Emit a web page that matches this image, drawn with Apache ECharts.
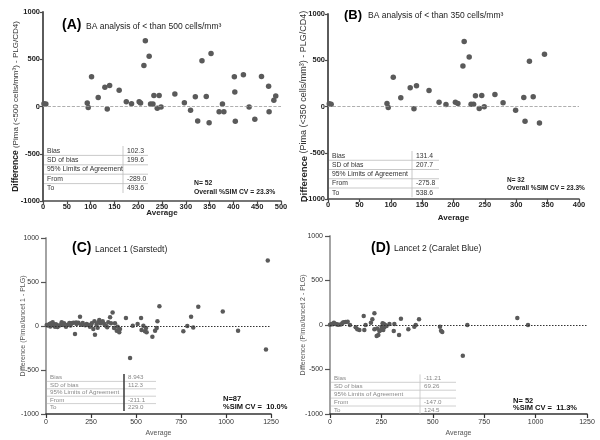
<!DOCTYPE html>
<html><head><meta charset="utf-8">
<script src="https://cdn.jsdelivr.net/npm/echarts@6/dist/echarts.min.js"></script>
<style>html,body{margin:0;padding:0;background:#fff}#c{width:600px;height:440px}</style>
</head><body><div id="c"></div>
<script>
// ---------- DATA ----------
const aAvg = [2,6,93,95,102,116,130,135,140,160,175,186,202,205,212,215,223,226,231,233,240,244,248,277,297,310,320,325,334,343,349,353,370,377,380,402,403,404,421,433,445,459,474,475,485,489];
const aDiff = [29,26,37,-11,314,95,204,-26,223,172,51,29,51,37,434,697,533,26,26,117,-18,117,-4,131,40,-40,102,-153,485,106,-172,562,-55,26,-55,314,153,-157,336,-4,-135,318,215,-55,66,110];

const bAvg = [2,5,94,96,104,116,131,137,141,161,177,188,203,207,215,217,225,228,232,235,241,245,249,266,279,299,312,314,321,327,337,345];
const bDiff = [29,25,33,-11,315,94,203,-25,225,174,47,22,47,33,438,703,536,25,25,116,-22,120,-4,130,40,-40,98,-159,489,105,-178,565];

const cAvg = [4,19,28,37,45,50,59,69,78,87,100,111,120,130,143,152,161,170,180,189,195,204,226,235,244,254,263,269,272,281,291,296,304,315,324,333,346,356,361,370,378,383,393,398,407,411,444,482,509,528,531,541,550,556,559,591,606,615,619,630,785,818,763,806,846,982,1067,1222,467,1232,10,24,41,55,64,95,136,167,218,250,287,340];
const cDiff = [11,23,30,42,4,-8,11,4,8,42,30,-8,15,34,30,38,-91,23,38,106,15,34,23,11,-8,30,-34,53,-99,15,42,68,30,53,23,4,42,99,30,152,-23,30,-53,-8,-72,-34,91,4,23,91,-45,4,-61,-23,-72,-121,-53,-23,53,224,0,-16,-61,106,219,166,-53,-266,-364,745,5,-6,18,20,-10,12,6,40,8,12,-20,-15];

const dAvg = [0,8,19,29,41,52,65,76,86,97,125,133,143,164,167,173,199,206,216,216,227,235,240,246,251,256,259,264,268,289,310,313,336,345,381,410,417,433,535,540,546,646,668,911,963,14,35,60,230,262,275];
const dDiff = [4,11,26,11,4,7,30,34,37,0,-26,-49,-56,101,-56,0,26,64,131,-49,-124,-112,-67,-60,-19,19,-56,-26,0,11,-67,11,-112,71,-49,-19,0,64,-19,-64,-78,-345,0,79,0,8,6,20,-40,10,-10];

const tableLabels = ['Bias','SD of bias','95% Limits of Agreement','From','To'];
const tableA = ['102.3','199.6','','-289.0','493.6'];
const tableB = ['131.4','207.7','','-275.8','538.6'];
const tableC = ['8.943','112.3','','-211.1','229.0'];
const tableD = ['-11.21','69.26','','-147.0','124.5'];

const notesA = ['N= 52','Overall %SIM CV = 23.3%'];
const notesB = ['N= 32','Overall %SIM CV = 23.3%'];
const notesC = ['N=87','%SIM CV =  10.0%'];
const notesD = ['N= 52','%SIM CV =  11.3%'];

const titles = [
  ['(A)','BA analysis of < than 500 cells/mm\u00B3'],
  ['(B)','BA analysis of < than 350 cells/mm\u00B3'],
  ['(C)','Lancet 1 (Sarstedt)'],
  ['(D)','Lancet 2 (Caralet Blue)']
];
const yNames = [
  '{b|Difference} (Pima (<500 cells/mm\u00B3) - PLG/CD4)',
  '{b|Difference} (Pima (<350 cells/mm\u00B3) - PLG/CD4)',
  'Difference (Pima/lancet 1 - PLG)',
  'Difference (Pima/lancet 2 - PLG)'
];
const xName = 'Average';
const xMax = [500, 400, 1250, 1250];
const xInt = [50, 50, 250, 250];
const yMin = -1000, yMax = 1000, yInt = 500;

// ---------- BUILD ----------
const FONT = '"Liberation Sans", Arial, sans-serif';
const zip = (xs, ys) => xs.map((x, i) => [x, ys[i]]);
const plain = v => String(v);

const grids = [
  {left: 43, top: 12, width: 238, height: 189},
  {left: 328, top: 14, width: 251, height: 185},
  {left: 46, top: 238, width: 225, height: 176},
  {left: 330, top: 236, width: 257, height: 178}
].map(g => Object.assign({outerBoundsMode: 'none', containLabel: false}, g));

const bold = [true, true, false, false];
const xAxes = [], yAxes = [], series = [];
const nameGapY = [23, 19, 19, 23];
const nameGapX = [8, 15, 16, 16];
const yNameSize = [8, 9, 7, 7];

for (let i = 0; i < 4; i++) {
  const ab = bold[i];
  xAxes.push({
    gridIndex: i, type: 'value', min: 0, max: xMax[i], interval: xInt[i],
    name: xName, nameLocation: 'middle', nameGap: nameGapX[i], nameMoveOverlap: false,
    nameTextStyle: {fontFamily: FONT, fontSize: ab ? 8 : 7, fontWeight: ab ? 'bold' : 'normal', color: ab ? '#222' : '#555'},
    axisLine: {show: true, onZero: false, lineStyle: {color: ab ? '#4a4a4a' : '#333', width: 1.6}},
    axisTick: {show: true, inside: false, length: ab ? 3 : 4, lineStyle: {color: ab ? '#4a4a4a' : '#333', width: 1.2}},
    axisLabel: {formatter: plain, fontFamily: FONT, fontSize: ab ? 7.5 : 7, fontWeight: ab ? 'bold' : 'normal', color: ab ? '#222' : '#333', margin: ab ? 2 : 5, showMinLabel: true, showMaxLabel: true, hideOverlap: false},
    splitLine: {show: false}
  });
  yAxes.push({
    gridIndex: i, type: 'value', min: yMin, max: yMax, interval: yInt,
    name: yNames[i], nameLocation: 'middle', nameGap: nameGapY[i], nameRotate: 90, nameMoveOverlap: false,
    nameTextStyle: {fontFamily: FONT, fontSize: yNameSize[i], color: ab ? '#333' : '#555',
      rich: {b: {fontFamily: FONT, fontSize: yNameSize[i] + 0.5, fontWeight: 'bold', color: '#222'}}},
    axisLine: {show: true, onZero: false, lineStyle: {color: ab ? '#4a4a4a' : '#9a9a9a', width: 1.8}},
    axisTick: {show: true, inside: false, length: ab ? 3 : 5, lineStyle: {color: ab ? '#4a4a4a' : '#555', width: 1.2}},
    axisLabel: {formatter: plain, fontFamily: FONT, fontSize: ab ? 7.5 : 7, fontWeight: ab ? 'bold' : 'normal', color: ab ? '#222' : '#333', margin: ab ? 3 : 7},
    splitLine: {show: false}
  });
}

const datasets = [zip(aAvg, aDiff), zip(bAvg, bDiff), zip(cAvg, cDiff), zip(dAvg, dDiff)];
for (let i = 0; i < 4; i++) {
  const ab = bold[i];
  series.push({
    type: 'scatter', xAxisIndex: i, yAxisIndex: i, data: datasets[i],
    symbol: 'circle', symbolSize: ab ? 5.5 : 4.5,
    itemStyle: {color: '#5a5a5a', opacity: 1},
    silent: true, animation: false,
    markLine: {
      silent: true, symbol: 'none', animation: false,
      label: {show: false},
      lineStyle: ab ? {type: 'dashed', color: '#9a9a9a', width: 0.8} : {type: [1.5, 1.5], color: '#333', width: 1},
      data: [{yAxis: 0}]
    }
  });
}

// ---------- ANNOTATIONS (graphic) ----------
const els = [];
function txt(x, y, text, size, weight, fill, align) {
  els.push({type: 'text', x: x, y: y, silent: true, z: 10,
    style: {text: text, fontFamily: FONT, fontSize: size, fontWeight: weight || 'normal', fill: fill || '#222',
      align: align || 'left', verticalAlign: 'middle'}});
}
function line(x1, y1, x2, y2, stroke, w) {
  els.push({type: 'line', silent: true, z: 9, shape: {x1, y1, x2, y2}, style: {stroke: stroke, lineWidth: w}});
}
function table(c, vals) {
  for (let r = 0; r < 5; r++) {
    const cy = c.top + c.rowH * (r + 0.5);
    txt(c.x0 + 3, cy, tableLabels[r], c.fs, 'normal', c.color);
    if (vals[r]) txt(c.div + 4, cy, vals[r], c.fs, 'normal', c.color);
    if (r < 4) line(c.x0, c.top + c.rowH * (r + 1), c.x1, c.top + c.rowH * (r + 1), c.lineColor, 0.8);
  }
  line(c.div, c.top, c.div, c.top + c.rowH * 5, c.divColor, c.divW);
}
table({x0: 44, x1: 148, top: 146, rowH: 9.4, div: 123, fs: 6.8, color: '#333', lineColor: '#bbb', divColor: '#bbb', divW: 0.8}, tableA);
table({x0: 329, x1: 439, top: 151, rowH: 9.25, div: 412, fs: 6.8, color: '#333', lineColor: '#bbb', divColor: '#bbb', divW: 0.8}, tableB);
table({x0: 47, x1: 156, top: 374, rowH: 7.4, div: 124, fs: 6.2, color: '#888', lineColor: '#c4c4c4', divColor: '#444', divW: 1.6}, tableC);
table({x0: 331, x1: 456, top: 374.4, rowH: 7.9, div: 420, fs: 6.2, color: '#888', lineColor: '#c4c4c4', divColor: '#c4c4c4', divW: 0.8}, tableD);

txt(194, 183, notesA[0], 6.8, 'bold', '#222'); txt(194, 192, notesA[1], 6.8, 'bold', '#222');
txt(507, 180.7, notesB[0], 6.5, 'bold', '#222'); txt(507, 188.3, notesB[1], 6.5, 'bold', '#222');
txt(223, 398.7, notesC[0], 7.5, 'bold', '#111'); txt(223, 406.7, notesC[1], 7.5, 'bold', '#111');
txt(513, 400.7, notesD[0], 7.5, 'bold', '#111'); txt(513, 407.7, notesD[1], 7.5, 'bold', '#111');

const tPos = [[62, 25, 86, 27, 14, 8.5], [344, 15.5, 368, 16, 13, 8.5], [72, 248.5, 95, 249.5, 14, 8.5], [371, 248, 394, 249, 14, 8.5]];
for (let i = 0; i < 4; i++) {
  const p = tPos[i];
  txt(p[0], p[1], titles[i][0], p[4], 'bold', '#000');
  txt(p[2], p[3], titles[i][1], p[5], 'normal', '#222');
}

const chart = echarts.init(document.getElementById('c'), null, {renderer: 'canvas'});
chart.setOption({
  backgroundColor: '#fff',
  animation: false,
  textStyle: {fontFamily: FONT},
  grid: grids,
  xAxis: xAxes,
  yAxis: yAxes,
  series: series,
  graphic: {elements: els}
});
</script></body></html>
